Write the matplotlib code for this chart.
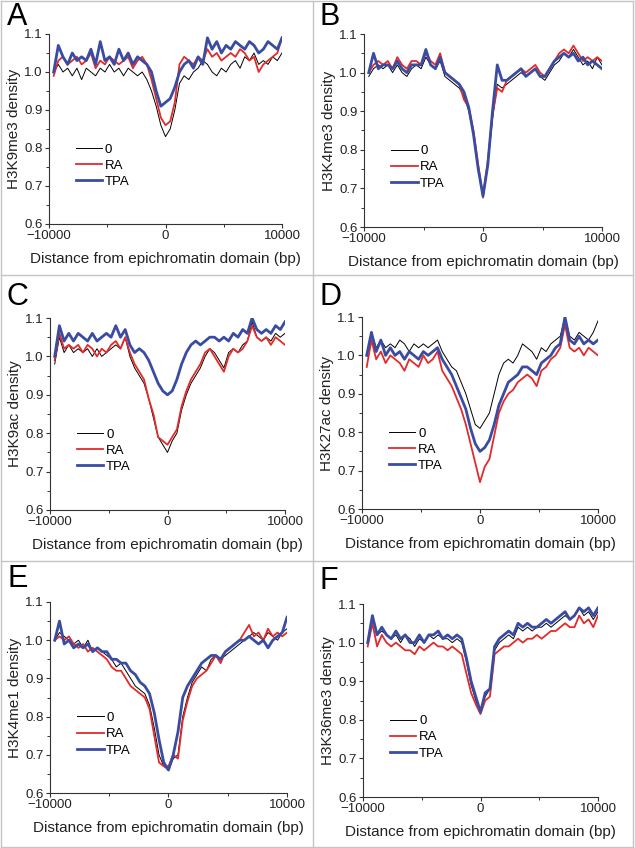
import matplotlib
matplotlib.use('Agg')
import matplotlib.pyplot as plt
import numpy as np
from matplotlib.ticker import MultipleLocator
from matplotlib.lines import Line2D

plt.rcParams['font.family'] = ['Liberation Sans', 'DejaVu Sans']

# posiciones (bp) de los puntos de cada perfil
x = np.arange(-9600, 10001, 400)

series_names = ['0', 'RA', 'TPA']
panel_letters = ['A', 'B', 'C', 'D', 'E', 'F']
ylabels = ['H3K9me3 density', 'H3K4me3 density', 'H3K9ac density',
           'H3K27ac density', 'H3K4me1 density', 'H3K36me3 density']

# Panel A - H3K9me3
a_0 = [1.00, 1.02, 1.00, 1.01, 0.99, 1.01, 0.98, 1.01, 1.00, 0.99, 1.01, 1.00, 1.02, 1.00, 1.01, 0.99, 1.01,
       1.00, 0.99, 1.00, 0.98, 0.95, 0.91, 0.86, 0.83, 0.85, 0.90, 0.97, 0.99, 0.98, 1.00, 1.01, 1.03, 1.02,
       1.00, 0.99, 1.01, 1.00, 1.02, 1.03, 1.01, 1.04, 1.03, 1.05, 1.02, 1.03, 1.02, 1.04, 1.03, 1.05]
a_ra = [0.99, 1.03, 1.04, 1.02, 1.03, 1.04, 1.02, 1.03, 1.05, 1.01, 1.03, 1.02, 1.04, 1.03, 1.02, 1.03, 1.04,
        1.01, 1.03, 1.04, 1.02, 0.98, 0.93, 0.88, 0.86, 0.87, 0.92, 1.02, 1.04, 1.03, 1.02, 1.04, 1.03, 1.06,
        1.04, 1.05, 1.03, 1.04, 1.05, 1.04, 1.06, 1.05, 1.03, 1.04, 1.00, 1.02, 1.03, 1.04, 1.05, 1.09]
a_tpa = [1.00, 1.07, 1.04, 1.02, 1.05, 1.03, 1.04, 1.03, 1.06, 1.02, 1.08, 1.03, 1.04, 1.02, 1.06, 1.03, 1.05,
         1.02, 1.04, 1.03, 1.02, 1.00, 0.95, 0.91, 0.92, 0.93, 0.96, 1.00, 1.02, 1.03, 1.01, 1.04, 1.02, 1.09,
         1.06, 1.08, 1.05, 1.07, 1.06, 1.08, 1.07, 1.06, 1.08, 1.07, 1.05, 1.06, 1.08, 1.07, 1.06, 1.09]

# Panel B - H3K4me3
b_0 = [0.99, 1.01, 1.02, 1.01, 1.02, 1.00, 1.02, 1.00, 0.99, 1.01, 1.02, 1.01, 1.04, 1.02, 1.01, 1.03, 0.99,
       0.98, 0.97, 0.96, 0.94, 0.90, 0.84, 0.75, 0.675, 0.76, 0.88, 0.97, 0.96, 0.97, 0.98, 0.99, 1.00, 0.99,
       1.00, 1.01, 0.99, 0.98, 1.00, 1.02, 1.03, 1.05, 1.04, 1.06, 1.04, 1.02, 1.03, 1.01, 1.04, 1.02]
b_ra = [1.00, 1.02, 1.03, 1.02, 1.03, 1.01, 1.04, 1.02, 1.01, 1.03, 1.03, 1.02, 1.05, 1.03, 1.02, 1.05, 1.00,
        0.99, 0.98, 0.97, 0.93, 0.91, 0.85, 0.76, 0.68, 0.77, 0.89, 0.96, 0.95, 0.98, 0.99, 1.00, 1.01, 1.00,
        1.01, 1.02, 1.00, 0.99, 1.01, 1.03, 1.05, 1.06, 1.05, 1.07, 1.05, 1.03, 1.04, 1.03, 1.04, 1.03]
b_tpa = [1.00, 1.05, 1.01, 1.02, 1.02, 1.01, 1.03, 1.01, 1.00, 1.02, 1.02, 1.02, 1.06, 1.02, 1.01, 1.04, 1.00,
         0.99, 0.98, 0.97, 0.95, 0.91, 0.84, 0.75, 0.68, 0.76, 0.90, 1.02, 0.98, 0.98, 0.99, 1.00, 1.01, 0.99,
         1.00, 1.01, 0.99, 0.99, 1.01, 1.03, 1.04, 1.05, 1.04, 1.05, 1.03, 1.04, 1.02, 1.03, 1.02, 1.01]

# Panel C - H3K9ac
c_0 = [0.98, 1.05, 1.01, 1.03, 1.01, 1.02, 1.01, 1.02, 1.00, 1.02, 1.00, 1.01, 1.02, 1.03, 1.02, 1.05, 1.00,
       0.97, 0.95, 0.93, 0.89, 0.84, 0.79, 0.77, 0.75, 0.78, 0.80, 0.86, 0.90, 0.93, 0.95, 0.97, 1.00, 1.02,
       1.01, 0.99, 0.97, 1.01, 1.02, 1.01, 1.03, 1.04, 1.09, 1.05, 1.04, 1.05, 1.04, 1.06, 1.05, 1.06]
c_ra = [0.99, 1.06, 1.02, 1.03, 1.02, 1.03, 1.01, 1.03, 1.02, 1.00, 1.02, 1.01, 1.03, 1.04, 1.02, 1.05, 1.01,
        0.98, 0.96, 0.94, 0.89, 0.85, 0.79, 0.78, 0.77, 0.79, 0.81, 0.87, 0.91, 0.94, 0.96, 0.98, 1.01, 1.02,
        1.00, 0.98, 0.96, 1.00, 1.02, 1.01, 1.02, 1.04, 1.08, 1.05, 1.04, 1.05, 1.03, 1.05, 1.04, 1.03]
c_tpa = [1.00, 1.08, 1.04, 1.06, 1.04, 1.06, 1.05, 1.04, 1.06, 1.04, 1.05, 1.06, 1.05, 1.08, 1.05, 1.07, 1.03,
         1.01, 1.02, 1.01, 0.99, 0.96, 0.93, 0.91, 0.90, 0.91, 0.94, 0.98, 1.01, 1.03, 1.04, 1.03, 1.04, 1.05,
         1.05, 1.04, 1.05, 1.04, 1.06, 1.05, 1.07, 1.06, 1.10, 1.07, 1.06, 1.07, 1.06, 1.08, 1.07, 1.09]

# Panel D - H3K27ac
d_0 = [1.00, 1.06, 1.02, 1.04, 1.02, 1.03, 1.02, 1.04, 1.03, 1.01, 1.03, 1.02, 1.03, 1.02, 1.03, 1.04, 1.01,
       0.99, 0.97, 0.96, 0.93, 0.90, 0.86, 0.82, 0.81, 0.83, 0.85, 0.90, 0.95, 0.98, 0.99, 0.98, 1.00, 1.03,
       1.02, 1.01, 0.99, 1.02, 1.01, 1.03, 1.04, 1.05, 1.10, 1.05, 1.04, 1.06, 1.05, 1.04, 1.06, 1.09]
d_ra = [0.97, 1.04, 0.99, 1.01, 0.98, 1.00, 0.99, 0.98, 0.96, 0.99, 0.98, 0.97, 1.00, 0.98, 0.99, 1.01, 0.96,
        0.94, 0.92, 0.89, 0.86, 0.82, 0.77, 0.72, 0.67, 0.71, 0.73, 0.79, 0.85, 0.88, 0.90, 0.91, 0.93, 0.94,
        0.95, 0.94, 0.92, 0.96, 0.97, 0.99, 1.00, 1.02, 1.08, 1.02, 1.01, 1.02, 1.00, 1.02, 1.01, 1.00]
d_tpa = [1.00, 1.06, 1.01, 1.04, 1.00, 1.02, 1.00, 1.01, 0.99, 1.01, 1.00, 0.99, 1.01, 1.00, 1.01, 1.02, 0.99,
         0.97, 0.95, 0.92, 0.89, 0.86, 0.81, 0.77, 0.75, 0.76, 0.78, 0.82, 0.87, 0.90, 0.93, 0.94, 0.95, 0.97,
         0.97, 0.96, 0.95, 0.98, 0.99, 1.00, 1.02, 1.03, 1.10, 1.04, 1.03, 1.05, 1.03, 1.04, 1.03, 1.04]

# Panel E - H3K4me1
e_0 = [1.00, 1.02, 1.01, 1.00, 0.99, 1.00, 0.98, 1.00, 0.97, 0.98, 0.97, 0.96, 0.95, 0.93, 0.94, 0.92, 0.90,
       0.88, 0.87, 0.86, 0.83, 0.77, 0.70, 0.67, 0.66, 0.69, 0.70, 0.80, 0.85, 0.89, 0.91, 0.93, 0.92, 0.95,
       0.96, 0.95, 0.96, 0.97, 0.98, 0.99, 1.00, 1.01, 1.02, 1.01, 1.00, 1.02, 1.01, 1.00, 1.02, 1.03]
e_ra = [1.00, 1.01, 1.00, 1.01, 0.99, 0.98, 0.99, 0.97, 0.98, 0.97, 0.96, 0.95, 0.93, 0.92, 0.92, 0.90, 0.88,
        0.87, 0.86, 0.85, 0.82, 0.75, 0.68, 0.67, 0.67, 0.70, 0.69, 0.79, 0.84, 0.88, 0.90, 0.91, 0.92, 0.94,
        0.96, 0.94, 0.97, 0.98, 0.99, 1.00, 1.02, 1.04, 1.01, 1.02, 1.00, 1.03, 1.01, 1.02, 1.01, 1.02]
e_tpa = [1.00, 1.05, 0.99, 1.00, 0.98, 0.99, 0.98, 0.99, 0.97, 0.98, 0.97, 0.97, 0.95, 0.95, 0.94, 0.94, 0.92,
         0.91, 0.89, 0.88, 0.86, 0.81, 0.74, 0.68, 0.66, 0.70, 0.76, 0.85, 0.88, 0.90, 0.92, 0.94, 0.95, 0.96,
         0.96, 0.95, 0.97, 0.98, 0.99, 1.00, 1.00, 1.01, 1.00, 0.99, 1.00, 0.98, 1.00, 1.01, 1.02, 1.06]

# Panel F - H3K36me3
f_0 = [1.00, 1.07, 1.02, 1.03, 1.02, 1.01, 1.02, 1.00, 1.02, 1.01, 0.99, 1.01, 1.00, 1.02, 1.01, 1.02, 1.01,
       1.01, 1.00, 1.01, 1.00, 0.95, 0.89, 0.85, 0.82, 0.86, 0.88, 0.98, 1.00, 1.01, 1.02, 1.01, 1.04, 1.03,
       1.04, 1.03, 1.04, 1.04, 1.05, 1.04, 1.05, 1.06, 1.07, 1.06, 1.07, 1.09, 1.07, 1.08, 1.06, 1.08]
f_ra = [0.99, 1.05, 0.99, 1.02, 1.00, 0.99, 1.00, 0.99, 0.98, 0.98, 0.97, 0.99, 0.98, 0.99, 1.00, 0.99, 0.99,
        0.98, 0.99, 0.98, 0.97, 0.92, 0.87, 0.84, 0.815, 0.85, 0.86, 0.97, 0.98, 0.99, 0.99, 1.00, 1.01, 1.00,
        1.01, 1.01, 1.02, 1.01, 1.02, 1.03, 1.03, 1.04, 1.05, 1.04, 1.04, 1.07, 1.05, 1.06, 1.04, 1.07]
f_tpa = [1.00, 1.07, 1.02, 1.04, 1.02, 1.01, 1.03, 1.01, 1.02, 1.00, 1.00, 1.02, 1.00, 1.02, 1.02, 1.03, 1.01,
         1.02, 1.01, 1.02, 1.01, 0.96, 0.90, 0.86, 0.82, 0.87, 0.88, 0.99, 1.01, 1.02, 1.03, 1.02, 1.05, 1.04,
         1.05, 1.04, 1.04, 1.05, 1.06, 1.05, 1.06, 1.07, 1.08, 1.06, 1.07, 1.09, 1.08, 1.09, 1.07, 1.09]

panel_data = [(a_0, a_ra, a_tpa), (b_0, b_ra, b_tpa), (c_0, c_ra, c_tpa),
              (d_0, d_ra, d_tpa), (e_0, e_ra, e_tpa), (f_0, f_ra, f_tpa)]

colors = ['black', '#e32a2a', '#3a4ca2']
widths = [0.7, 1.3, 2.0]

W, H = 635, 848
fig = plt.figure(figsize=(W / 100, H / 100), dpi=100)

# marcos grises de los paneles (en pixeles)
border = '#c4c4c4'
for (x0, x1, y0, y1) in [(1, 633, 1, 1), (1, 633, 847, 847), (1, 1, 1, 847), (633, 633, 1, 847),
                         (1, 633, 275, 275), (1, 633, 561, 561), (313, 313, 1, 847)]:
    fig.add_artist(Line2D([x0 / W, x1 / W], [1 - y0 / H, 1 - y1 / H], color=border, lw=1.0,
                          transform=fig.transFigure))

# cajas de los ejes en pixeles: izquierda, derecha, arriba, abajo
boxes = [(49, 282, 34, 224), (364, 602, 34, 227), (50, 285, 318, 510),
         (362, 598, 317, 509), (50, 287, 602, 793), (363, 598, 604, 797)]
letter_pos = [(7, 25), (320, 25), (7, 305), (320, 305), (7, 587), (320, 589)]

for i, (l, r, t, b) in enumerate(boxes):
    ax = fig.add_axes([l / W, 1 - b / H, (r - l) / W, (b - t) / H])
    for k, ys in enumerate(panel_data[i]):
        ax.plot(x, ys, color=colors[k], lw=widths[k], label=series_names[k])

    ax.set_xlim(-10000, 10000)
    ax.set_ylim(0.6, 1.1)
    ax.set_xticks([-10000, 0, 10000])
    ax.set_yticks(np.arange(0.6, 1.11, 0.1))
    ax.xaxis.set_minor_locator(MultipleLocator(5000))
    ax.yaxis.set_minor_locator(MultipleLocator(0.05))
    ax.spines['top'].set_visible(False)
    ax.spines['right'].set_visible(False)
    for s in ['left', 'bottom']:
        ax.spines[s].set_color('#333333')
        ax.spines[s].set_linewidth(0.8)
    ax.tick_params(which='major', direction='out', length=3, width=0.8, labelsize=9.5,
                   colors='#333333', labelcolor='#222222', pad=1.5)
    ax.tick_params(which='minor', direction='out', length=2, width=0.7, colors='#333333')
    ax.set_xlabel('Distance from epichromatin domain (bp)', fontsize=11, color='#222222', labelpad=7)
    ax.set_ylabel(ylabels[i], fontsize=11, color='#222222', labelpad=2)

    ax.legend(loc='upper left', bbox_to_anchor=(0.07, 0.48), frameon=False, fontsize=9.5,
              handlelength=2.0, handletextpad=0.2, labelspacing=0.3, borderpad=0.3)

    lx, ly = letter_pos[i]
    fig.text(lx / W, 1 - ly / H, panel_letters[i], fontsize=22, color='black', ha='left', va='baseline')

fig.savefig('out.png', dpi=100)
